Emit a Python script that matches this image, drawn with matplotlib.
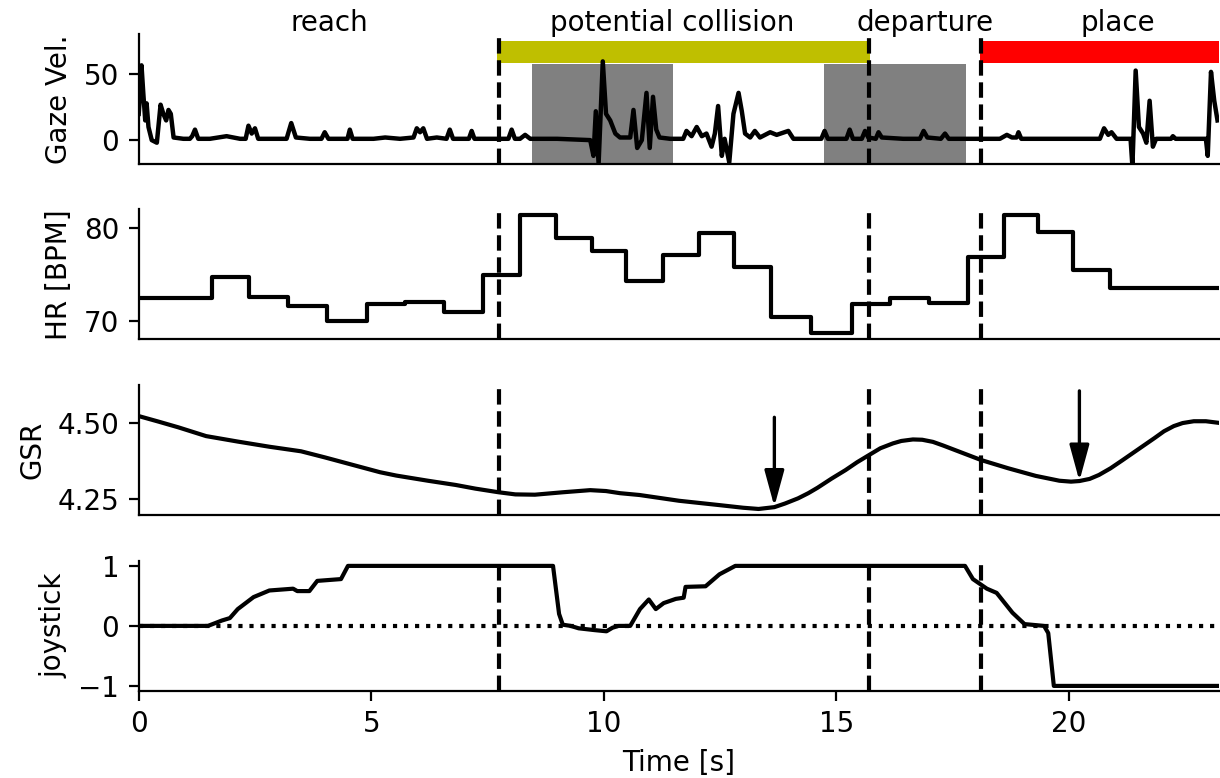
import matplotlib
matplotlib.use("Agg")
import matplotlib.pyplot as plt

# ---------------- data ----------------
phase_names = ["reach", "potential collision", "departure", "place"]
phase_label_x = [4.1, 11.47, 16.91, 21.06]
phase_bounds = [7.74, 15.71, 18.12]
t_end = 23.23

collision_bar = (7.70, 15.73)     # yellow bar
place_bar = (18.09, 23.23)        # red bar
bar_low, bar_high = 58.6, 75.8
gray_spans = [(8.45, 11.50), (14.74, 17.79)]
gray_top = 58.0

gaze_t = [0.0, 0.03, 0.06, 0.1, 0.14, 0.17, 0.21, 0.28, 0.39, 0.47, 0.53, 0.59, 0.64, 0.69, 0.75,
          0.96, 1.1, 1.15, 1.21, 1.28, 1.53, 1.89, 2.18, 2.3, 2.36, 2.43, 2.5, 2.57, 2.89, 3.18, 3.28,
          3.38, 3.68, 3.93, 4.0, 4.08, 4.47, 4.49, 4.54, 4.6, 5.05, 5.3, 5.62, 5.91, 5.98, 6.05, 6.12, 6.2,
          6.41, 6.62, 6.69, 6.76, 7.05, 7.1, 7.16, 7.22, 7.55, 7.77, 7.95, 8.02, 8.09, 8.2, 8.31, 8.42,
          9.0, 9.71, 9.78, 9.83, 9.89, 9.98, 10.05, 10.14, 10.25, 10.35, 10.57, 10.64, 10.72, 10.82,
          10.92, 10.99, 11.06, 11.13, 11.2, 11.43, 11.71, 11.78, 11.89, 12.0, 12.11, 12.21, 12.32,
          12.39, 12.46, 12.54, 12.6, 12.7, 12.79, 12.86, 12.9, 12.97, 13.04, 13.15, 13.25, 13.36,
          13.58, 13.72, 13.97, 14.08, 14.58, 14.68, 14.75, 14.82, 15.15, 15.22, 15.29, 15.36, 15.55,
          15.62, 15.69, 15.85, 15.91, 15.98, 16.44, 16.8, 16.88, 16.96, 17.25, 17.34, 17.42, 17.95,
          18.52, 18.67, 18.78, 18.88, 18.92, 18.98, 19.8, 20.67, 20.76, 20.85, 20.92, 21.03, 21.33,
          21.37, 21.44, 21.51, 21.6, 21.67, 21.74, 21.81, 21.88, 22.2, 22.24, 22.3, 22.95, 22.99,
          23.06, 23.13, 23.2]
gaze_v = [20, 35, 57, 35, 15, 28, 10, 0, -2, 27, 20, 15, 23, 20, 2,
          1, 1, 3, 8, 1, 1, 3, 1, 1, 11, 5, 9, 1, 1, 1, 13,
          2, 1, 1, 6, 1, 1, 1, 8, 1, 1, 2, 1, 2, 9, 6, 9, 1,
          2, 1, 8, 1, 1, 1, 7, 1, 1, 1, 1, 8, 1, 1, 4, 1,
          1, 0, -12, 22, -18, 60, 20, 15, 5, 2, 2, 23, -6, 0,
          36, -6, 33, 8, 2, 1, 1, 7, 3, 10, 3, 5, -5,
          5, 26, -12, 1, -17, 20, 30, 36, 22, 5, 2, 7, 2,
          6, 4, 7, 1, 1, 1, 7, 1, 1, 1, 8, 1, 1,
          7, 2, 1, 6, 2, 1, 1, 7, 2, 1, 5, 1, 1,
          1, 4, 2, 2, 6, 1, 1, 1, 9, 4, 6, 1, 1,
          -20, 53, 10, 5, -2, 30, -5, 1, 1, 3, 1, 1, -12,
          52, 30, 15]

hr_t = [0, 1.58, 2.38, 3.21, 4.05, 4.90, 5.72, 6.56, 7.40, 8.20, 8.97, 9.74, 10.48, 11.27,
        12.05, 12.80, 13.60, 14.45, 15.33, 16.16, 16.99, 17.83, 18.61, 19.34, 20.10, 20.89, 23.23]
hr_v = [72.4, 74.7, 72.6, 71.6, 70.0, 71.8, 72.0, 70.9, 74.9, 81.4, 78.9, 77.5, 74.3, 77.1,
        79.5, 75.8, 70.4, 68.7, 71.8, 72.5, 71.9, 76.9, 81.4, 79.6, 75.5, 73.5, 73.5]

gsr_t = [0.0, 0.42, 0.85, 1.45, 2.13, 2.81, 3.49, 4.0, 4.68, 5.19, 5.54, 6.22, 6.82, 7.24, 7.74,
         8.1, 8.52, 9.12, 9.71, 10.05, 10.35, 10.77, 11.62, 12.47, 13.0, 13.33, 13.67, 13.9,
         14.18, 14.4, 14.6, 14.9, 15.2, 15.45, 15.71, 15.95, 16.22, 16.4, 16.65, 16.85, 17.08,
         17.3, 17.59, 18.12, 18.7, 19.29, 19.8, 20.05, 20.23, 20.45, 20.65, 20.9, 21.16, 21.5,
         21.84, 22.05, 22.26, 22.45, 22.69, 22.95, 23.21]
gsr_v = [4.524, 4.506, 4.487, 4.458, 4.440, 4.423, 4.408, 4.388, 4.360, 4.339, 4.328, 4.311,
         4.297, 4.285, 4.273, 4.266, 4.265, 4.273, 4.280, 4.277, 4.270, 4.264, 4.245, 4.231,
         4.222, 4.218, 4.224, 4.236, 4.253, 4.270, 4.288, 4.318, 4.346, 4.372, 4.396, 4.418,
         4.434, 4.442, 4.447, 4.446, 4.439, 4.427, 4.410, 4.379, 4.352, 4.327, 4.311, 4.308,
         4.310, 4.317, 4.330, 4.352, 4.379, 4.415, 4.451, 4.474, 4.491, 4.501, 4.507, 4.507,
         4.502]

arrow_x = [13.67, 20.23]
arrow_tail = [4.52, 4.607]
arrow_tip = [4.226, 4.31]

joy_t = [0.0, 1.49, 1.79, 1.96, 2.13, 2.47, 2.81, 3.32, 3.41, 3.67, 3.84, 4.35, 4.5, 8.91,
         9.04, 9.12, 9.29, 9.46, 9.8, 10.06, 10.19, 10.32, 10.57, 10.78, 10.97, 11.12, 11.29,
         11.55, 11.72, 11.76, 12.19, 12.49, 12.83, 17.77, 17.94, 18.24, 18.45, 18.79, 19.05,
         19.47, 19.56, 19.68, 23.23]
joy_v = [0.0, 0.0, 0.09, 0.13, 0.28, 0.48, 0.59, 0.62, 0.58, 0.58, 0.75, 0.78, 1.0, 1.0,
         0.2, 0.02, 0.0, -0.04, -0.07, -0.09, -0.03, 0.0, 0.0, 0.28, 0.44, 0.28, 0.38,
         0.45, 0.47, 0.65, 0.66, 0.86, 1.0, 1.0, 0.78, 0.62, 0.55, 0.22, 0.03,
         0.0, -0.12, -1.0, -1.0]

# ---------------- figure ----------------
fig = plt.figure(figsize=(6.1, 3.89), dpi=200)
left, width, h = 0.1137, 0.8854, 0.167
bottoms = [0.7892, 0.5639, 0.338, 0.1122]
axes = [fig.add_axes([left, b, width, h]) for b in bottoms]

for ax in axes:
    ax.spines["top"].set_visible(False)
    ax.spines["right"].set_visible(False)
    ax.set_xlim(0, t_end)
    for tb in phase_bounds:
        ax.axvline(tb, color="k", ls="--", lw=1.5, zorder=5)
for ax in axes[:3]:
    ax.tick_params(axis="x", bottom=False, labelbottom=False)

# gaze velocity
ax = axes[0]
ax.fill_between(collision_bar, bar_low, bar_high, color=(0.75, 0.75, 0.0), lw=0, zorder=1)
ax.fill_between(place_bar, bar_low, bar_high, color="red", lw=0, zorder=1)
for s0, s1 in gray_spans:
    ax.fill_between((s0, s1), -30, gray_top, color="gray", lw=0, zorder=1)
ax.plot(gaze_t, gaze_v, color="k", lw=1.6, zorder=3)
ax.set_ylim(-18.2, 80.8)
ax.set_yticks([0, 50])
ax.set_ylabel("Gaze Vel.")
trans = ax.get_xaxis_transform()
for name, xl in zip(phase_names, phase_label_x):
    ax.text(xl, 1.086, name, transform=trans, ha="center", va="center", fontsize=10)

# heart rate
ax = axes[1]
ax.step(hr_t, hr_v, where="post", color="k", lw=1.5)
ax.set_ylim(68.0, 82.0)
ax.set_yticks([70, 80])
ax.set_ylabel("HR [BPM]")

# GSR
ax = axes[2]
ax.plot(gsr_t, gsr_v, color="k", lw=1.5)
ax.set_ylim(4.198, 4.626)
ax.set_yticks([4.25, 4.50])
ax.set_yticklabels(["4.25", "4.50"])
ax.set_ylabel("GSR")
for xa, yt, yh in zip(arrow_x, arrow_tail, arrow_tip):
    ax.annotate("", xy=(xa, yh), xytext=(xa, yt),
                arrowprops=dict(arrowstyle="-|>,head_length=0.55,head_width=0.15",
                                mutation_scale=20, lw=1.2, color="k",
                                shrinkA=0, shrinkB=0))

# joystick
ax = axes[3]
ax.axhline(0, color="k", ls=":", lw=1.5)
ax.plot(joy_t, joy_v, color="k", lw=1.5)
ax.set_ylim(-1.08, 1.085)
ax.set_yticks([-1, 0, 1])
ax.set_ylabel("joystick")
ax.set_xticks([0, 5, 10, 15, 20])
ax.set_xlabel("Time [s]")

fig.savefig("out.png", dpi=200)
